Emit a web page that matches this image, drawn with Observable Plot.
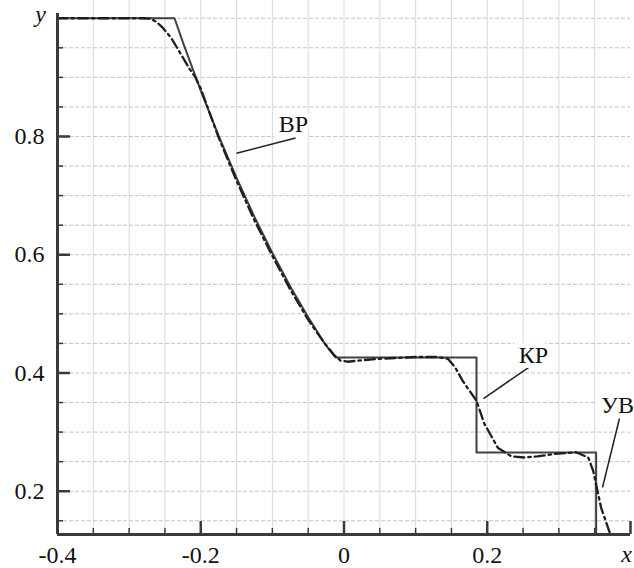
<!DOCTYPE html>
<html>
<head>
<meta charset="utf-8">
<script src="https://cdn.jsdelivr.net/npm/d3@7"></script>
<script src="https://cdn.jsdelivr.net/npm/@observablehq/plot@0.6"></script>
<style>
  html, body { margin: 0; padding: 0; background: #fff; }
  #chart svg { display: block; background: #fff; }
</style>
</head>
<body>
<div id="chart"></div>
<script>
// Exact solution (solid line)
const exactX = [-0.4, -0.2366, -0.225, -0.2, -0.175, -0.15, -0.125, -0.1, -0.075, -0.05, -0.025, -0.012, 0.185, 0.185, 0.352, 0.352, 0.4];
const exactY = [1.0, 1.0, 0.9596, 0.8775, 0.801, 0.7299, 0.664, 0.603, 0.5464, 0.4943, 0.4461, 0.4263, 0.4263, 0.2656, 0.2656, 0.125, 0.125];

// Numerical solution (dash-dot line)
const numX = [-0.4, -0.28, -0.27, -0.262, -0.254, -0.242, -0.231, -0.217, -0.207, -0.2, -0.175, -0.15, -0.125, -0.1, -0.075, -0.05, -0.03, -0.015, -0.005, 0.005, 0.02, 0.05, 0.1, 0.13, 0.145, 0.155, 0.166, 0.185, 0.196, 0.215, 0.234, 0.252, 0.27, 0.294, 0.324, 0.341, 0.348, 0.359, 0.371, 0.38, 0.4];
const numY = [1.0, 1.0, 0.999, 0.994, 0.985, 0.968, 0.946, 0.917, 0.899, 0.881, 0.798, 0.725, 0.658, 0.598, 0.541, 0.49, 0.455, 0.432, 0.421, 0.419, 0.421, 0.424, 0.427, 0.427, 0.424, 0.41, 0.386, 0.353, 0.314, 0.273, 0.259, 0.257, 0.259, 0.263, 0.266, 0.257, 0.234, 0.172, 0.13, 0.126, 0.126];

// Axis ticks
const xTickLabels = ["-0.4", "-0.2", "0", "0.2"];
const xTickValues = [-0.4, -0.2, 0, 0.2];
const xMajorTicks = [-0.2, 0, 0.2, 0.4];
const xMinorTicks = [-0.35, -0.3, -0.25, -0.15, -0.1, -0.05, 0.05, 0.1, 0.15, 0.25, 0.3, 0.35];
const xGrid = [-0.35, -0.3, -0.25, -0.2, -0.15, -0.1, -0.05, 0, 0.05, 0.1, 0.15, 0.2, 0.25, 0.3, 0.35];
const yTickValues = [0.2, 0.4, 0.6, 0.8];
const yTickLabels = ["0.2", "0.4", "0.6", "0.8"];
const yMinorTicks = [0.15, 0.25, 0.3, 0.35, 0.45, 0.5, 0.55, 0.65, 0.7, 0.75, 0.85, 0.9, 0.95];
const yGrid = [0.15, 0.2, 0.25, 0.3, 0.35, 0.4, 0.45, 0.5, 0.55, 0.6, 0.65, 0.7, 0.75, 0.8, 0.85, 0.9, 0.95, 1.0];

// Annotations (data coordinates)
const labelText = ["ВР", "КР", "УВ"];
const labelX = [-0.0705, 0.2646, 0.3819];
const labelY = [0.807, 0.4177, 0.333];
const leaderX1 = [-0.150, 0.2576, 0.3846];
const leaderY1 = [0.7717, 0.4092, 0.3230];
const leaderX2 = [-0.0677, 0.1948, 0.3609];
const leaderY2 = [0.7974, 0.3568, 0.2063];

const xDomain = [-0.4, 0.4];
const yDomain = [0.1268, 1.008];

const exact = exactX.map((x, i) => ({x, y: exactY[i]}));
const num = numX.map((x, i) => ({x, y: numY[i]}));
const labels = labelText.map((t, i) => ({t, x: labelX[i], y: labelY[i]}));
const leaders = labelText.map((t, i) => ({x1: leaderX1[i], y1: leaderY1[i], x2: leaderX2[i], y2: leaderY2[i]}));

const W = 634, H = 568;
const mL = 57, mR = 4, mT = 13, mB = 34;
const frameW = W - mL - mR, frameH = H - mT - mB;
const axisColor = "#3a3a3a";
const serif = "Liberation Serif";

const chart = Plot.plot({
  width: W,
  height: H,
  marginLeft: mL,
  marginRight: mR,
  marginTop: mT,
  marginBottom: mB,
  x: {domain: xDomain},
  y: {domain: yDomain},
  marks: [
    // grid
    Plot.ruleX(xGrid, {x: d => d, stroke: "#d8d8d8", strokeWidth: 1, insetTop: -mT}),
    Plot.ruleY(yGrid, {y: d => d, stroke: "#c4c4c4", strokeWidth: 1, strokeDasharray: "4,2"}),
    // curves
    Plot.line(exact, {x: "x", y: "y", stroke: "#404040", strokeWidth: 2, clip: true}),
    Plot.line(num, {x: "x", y: "y", stroke: "#1e1e1e", strokeWidth: 2.3, strokeDasharray: "10,4,2.5,4", clip: true}),
    // annotations
    Plot.link(leaders, {x1: "x1", y1: "y1", x2: "x2", y2: "y2", stroke: "#222", strokeWidth: 1.5}),
    Plot.text(labels, {x: "x", y: "y", text: "t", textAnchor: "middle", lineAnchor: "bottom", fill: "#111", stroke: "white", strokeWidth: 10, strokeLinejoin: "miter"}),
    // ticks (inward)
    Plot.tickX(xMajorTicks, {x: d => d, stroke: axisColor, strokeWidth: 2.5, insetTop: frameH - 13}),
    Plot.tickX(xMinorTicks, {x: d => d, stroke: axisColor, strokeWidth: 1.5, insetTop: frameH - 6}),
    Plot.tickY(yTickValues, {y: d => d, stroke: axisColor, strokeWidth: 2.5, insetRight: frameW - 13}),
    Plot.tickY(yMinorTicks, {y: d => d, stroke: axisColor, strokeWidth: 1.5, insetRight: frameW - 6}),
    // axis lines
    Plot.ruleX([xDomain[0]], {stroke: axisColor, strokeWidth: 3}),
    Plot.ruleY([yDomain[0]], {stroke: axisColor, strokeWidth: 3}),
    // tick labels
    Plot.axisX({ticks: xTickValues, tickSize: 0, tickPadding: 11, tickFormat: (d, i) => xTickLabels[i], fill: "#111", label: null}),
    Plot.axisY({ticks: yTickValues, tickSize: 0, tickPadding: 13, tickFormat: (d, i) => yTickLabels[i], fill: "#111", label: null}),
    // axis titles
    Plot.text(["y"], {frameAnchor: "top-left", text: d => d, dx: -17, dy: 8, textAnchor: "middle", lineAnchor: "bottom", fontStyle: "italic", fill: "#111"}),
    Plot.text(["x"], {frameAnchor: "bottom-right", text: d => d, dx: -4, dy: 27, textAnchor: "middle", lineAnchor: "bottom", fontStyle: "italic", fill: "#111"})
  ]
});
// enforce serif font and size on every text node
chart.setAttribute("font-family", serif);
chart.setAttribute("font-size", "24");
chart.querySelectorAll("g").forEach(g => {
  if (g.hasAttribute("font-family")) g.setAttribute("font-family", serif);
  if (g.hasAttribute("font-size")) g.setAttribute("font-size", "24");
});
chart.querySelectorAll("text").forEach(t => {
  t.setAttribute("font-family", serif);
  t.setAttribute("font-size", "24");
  t.style.fontFamily = "'Liberation Serif', serif";
  t.style.fontSize = "24px";
});
document.getElementById("chart").appendChild(chart);
</script>
</body>
</html>
